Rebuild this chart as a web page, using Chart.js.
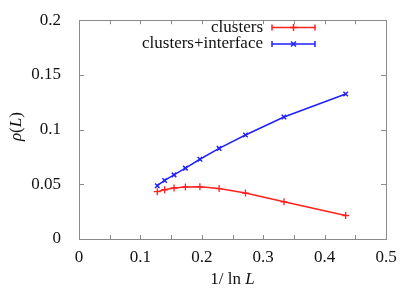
<!DOCTYPE html>
<html><head><meta charset="utf-8">
<script src="https://cdn.jsdelivr.net/npm/chart.js@4"></script>
<style>html,body{margin:0;padding:0;background:#fff}#wrap{width:415px;height:291px}</style>
</head><body><div id="wrap"><canvas id="c" width="415" height="291"></canvas></div>
<script>
// 1/ln L for L = 2560,1280,640,320,160,80,40,20,10
const xValues = [0.1275, 0.1395, 0.1548, 0.1733, 0.1969, 0.2282, 0.2711, 0.3338, 0.4343];
const clusters = [0.0433, 0.0450, 0.0466, 0.0476, 0.0477, 0.0461, 0.0420, 0.0340, 0.0215];
const clustersInterface = [0.0487, 0.0535, 0.0586, 0.0648, 0.0729, 0.0828, 0.0951, 0.1115, 0.1325];
const seriesNames = ["clusters", "clusters+interface"];
const xTickLabels = ["0", "0.1", "0.2", "0.3", "0.4", "0.5"];
const yTickLabels = ["0", "0.05", "0.1", "0.15", "0.2"];

const FONT = '"Liberation Serif", "DejaVu Serif", serif';
const RED = '#ff2020', BLUE = '#2020ff', AXIS = '#8a8a8a', TXT = '#111';

function fmt(v){ return String(Math.round(v*100)/100); }

const framePlugin = {
  id: 'frame',
  beforeDatasetsDraw(chart){
    const {ctx, chartArea: a, scales:{x, y}} = chart;
    ctx.save();
    ctx.strokeStyle = AXIS; ctx.lineWidth = 1;
    ctx.strokeRect(Math.round(a.left)+0.5, Math.round(a.top)+0.5, Math.round(a.right-a.left), Math.round(a.bottom-a.top));
    ctx.beginPath();
    for (let i = 1; i < 10; i++) {
      const px = Math.round(x.getPixelForValue(i*0.05))+0.5;
      ctx.moveTo(px, a.bottom); ctx.lineTo(px, a.bottom-4);
      ctx.moveTo(px, a.top); ctx.lineTo(px, a.top+4);
    }
    for (let i = 1; i < 4; i++) {
      const py = Math.round(y.getPixelForValue(i*0.05))+0.5;
      ctx.moveTo(a.left, py); ctx.lineTo(a.left+5, py);
      ctx.moveTo(a.right, py); ctx.lineTo(a.right-5, py);
    }
    ctx.stroke();
    ctx.restore();
  },
  afterDraw(chart){
    const {ctx, chartArea: a} = chart;
    ctx.save();
    ctx.fillStyle = TXT;
    ctx.textBaseline = 'middle';
    // legend
    const items = [{name: seriesNames[0], color: RED, style: 'cross', y: 27.5},
                   {name: seriesNames[1], color: BLUE, style: 'crossRot', y: 44}];
    ctx.font = '17px ' + FONT;
    ctx.textAlign = 'right';
    items.forEach(it => {
      ctx.fillStyle = TXT;
      ctx.fillText(it.name, 263, it.y);
      ctx.strokeStyle = it.color; ctx.lineWidth = 1.5;
      ctx.beginPath();
      ctx.moveTo(272, it.y); ctx.lineTo(315, it.y);
      ctx.moveTo(272, it.y-3); ctx.lineTo(272, it.y+3);
      ctx.moveTo(315, it.y-3); ctx.lineTo(315, it.y+3);
      ctx.stroke();
      Chart.helpers.drawPoint(ctx, {pointStyle: it.style, radius: 3.5, borderWidth: 1.5}, 293.5, it.y);
    });
    // x title: 1/ ln L
    const xt = 'L';
    ctx.textAlign = 'left';
    ctx.font = '17px ' + FONT;
    const p1 = '1/ ln ';
    const w1 = ctx.measureText(p1).width;
    ctx.font = 'italic 17px ' + FONT;
    const w2 = ctx.measureText(xt).width;
    const cx = (a.left + a.right)/2;
    let sx = cx - (w1+w2)/2;
    ctx.font = '17px ' + FONT;
    ctx.fillText(p1, sx, 280);
    ctx.font = 'italic 17px ' + FONT;
    ctx.fillText(xt, sx + w1, 280);
    // y title: rho(L)
    ctx.translate(17, (a.top+a.bottom)/2 - 3);
    ctx.rotate(-Math.PI/2);
    const parts = [['italic ', 'ρ'], ['', '('], ['italic ', 'L'], ['', ')']];
    let tw = 0;
    parts.forEach(p => { ctx.font = p[0] + '17px ' + FONT; tw += ctx.measureText(p[1]).width; });
    let ox = -tw/2;
    parts.forEach(p => { ctx.font = p[0] + '17px ' + FONT; ctx.fillText(p[1], ox, 0); ox += ctx.measureText(p[1]).width; });
    ctx.restore();
  }
};

new Chart(document.getElementById('c'), {
  type: 'scatter',
  data: {
    datasets: [
      {label: seriesNames[0], data: xValues.map((x,i)=>({x, y: clusters[i]})), showLine: true,
       borderColor: RED, backgroundColor: RED, borderWidth: 1.5, pointStyle: 'cross', pointRadius: 3.5,
       pointBorderWidth: 1.3, pointBorderColor: RED},
      {label: seriesNames[1], data: xValues.map((x,i)=>({x, y: clustersInterface[i]})), showLine: true,
       borderColor: BLUE, backgroundColor: BLUE, borderWidth: 1.5, pointStyle: 'crossRot', pointRadius: 3.2,
       pointBorderWidth: 1.5, pointBorderColor: BLUE}
    ]
  },
  options: {
    responsive: false, animation: false, devicePixelRatio: 1,
    layout: {padding: {left: 0, right: 29, top: 16, bottom: 0}},
    plugins: {legend: {display: false}, tooltip: {enabled: false}},
    scales: {
      x: {type: 'linear', min: 0, max: 0.5,
          grid: {display: false}, border: {display: false},
          afterFit(s){ s.height = 52; },
          afterBuildTicks(s){ s.ticks = xTickLabels.map(t => ({value: parseFloat(t)})); },
          ticks: {autoSkip: false, maxRotation: 0, padding: 0, color: TXT, font: {family: FONT, size: 17},
                  callback: v => fmt(v)}},
      y: {type: 'linear', min: 0, max: 0.2,
          grid: {display: false}, border: {display: false},
          afterFit(s){ s.width = 79; },
          afterBuildTicks(s){ s.ticks = yTickLabels.map(t => ({value: parseFloat(t)})); },
          ticks: {autoSkip: false, padding: 10, color: TXT, font: {family: FONT, size: 17},
                  callback: v => fmt(v)}}
    }
  },
  plugins: [framePlugin]
});
</script></body></html>
